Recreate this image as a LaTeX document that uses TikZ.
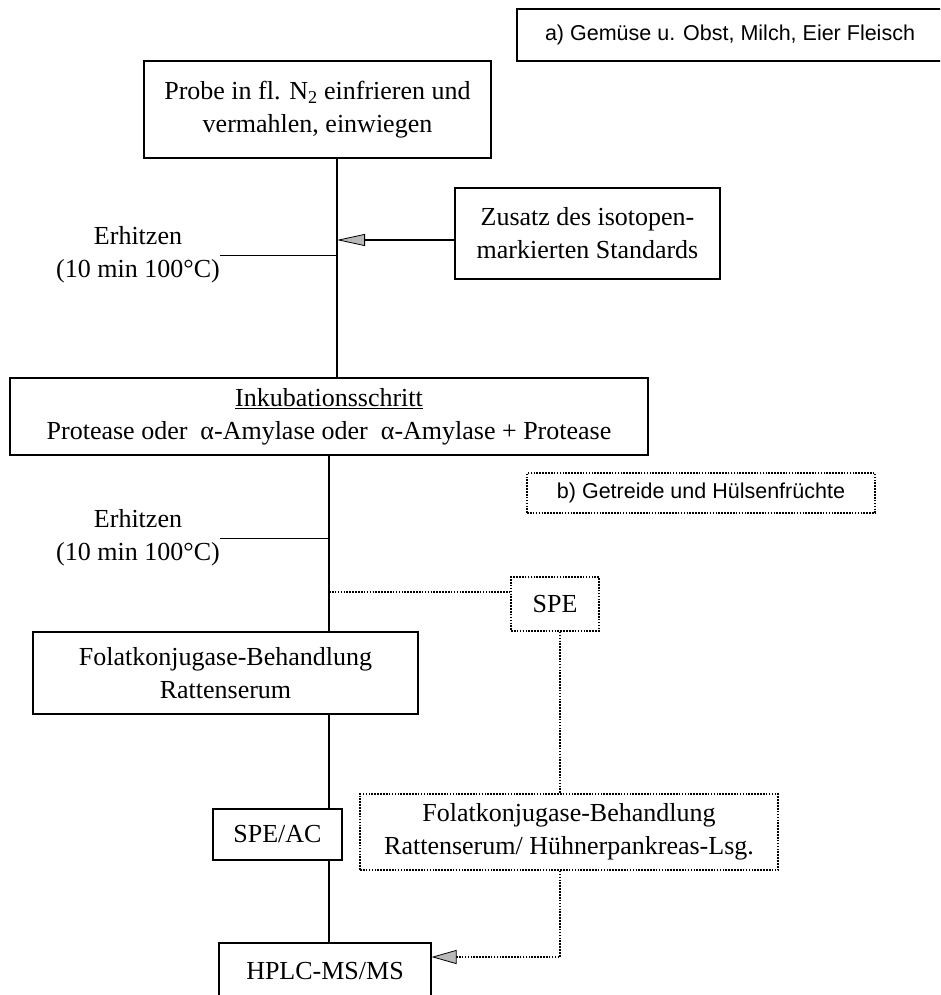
\documentclass[tikz,border=0pt]{standalone}
\usepackage{fontspec}
\setmainfont{Liberation Serif}
\newfontfamily\sansfam{Liberation Sans}
\usetikzlibrary{arrows.meta}
\newcommand\serifsz{\fontsize{26}{33}\selectfont}
\newcommand\sanssz{\sansfam\fontsize{21.5}{26}\selectfont}
\begin{document}
\begin{tikzpicture}[x=1pt,y=-1pt,
  box/.style={draw, line width=1.1pt, inner sep=0pt, align=center, font=\serifsz},
  dbox/.style={box, line width=1.7pt, dash pattern=on 1.6pt off 1.3pt},
  sansbox/.style={font=\sanssz},
  lbl/.style={inner sep=0pt, align=center, font=\serifsz},
  conn/.style={line width=1.8pt},
  thinline/.style={line width=1pt},
  frame/.style={line width=1.1pt},
  dline/.style={line width=1.7pt, dash pattern=on 1.6pt off 1.3pt},
  bigarr/.style={line width=2.4pt, -{Triangle[length=28pt,width=12pt,fill=gray!55,line width=0.8pt]}},
  dotarr/.style={dline, -{Triangle[length=25pt,width=14pt,fill=gray!55,line width=0.8pt]}}
]
\path[use as bounding box, clip] (0,0) rectangle (940,995);

\node[lbl, sansbox] (gem) at (730,35) {a) Gemüse u. Obst, Milch, Eier Fleisch};
\draw[frame] (gem.center) ++(230,-26) -- ++(-443,0) -- ++(0,52) -- ++(443,0);
\node[box, minimum width=347pt, minimum height=97pt] (probe) at (317.5,109.5) {Probe in fl. N\textsubscript{2} einfrieren und\\vermahlen, einwiegen};
\node[box, minimum width=265pt, minimum height=91pt] (zusatz) at (587.5,233.5) {Zusatz des isotopen-\\markierten Standards};
\node[lbl] (erh1) at (138,255) {Erhitzen\\(10 min 100°C)};
\node[box, minimum width=638pt, minimum height=77pt] (inkub) at (329,416.5) {\underline{Inkubationsschritt}\\Protease oder\ \ α-Amylase oder\ \ α-Amylase + Protease};
\node[dbox, sansbox, minimum width=348pt, minimum height=40pt] (getr) at (701,493) {b) Getreide und Hülsenfrüchte};
\node[lbl] (erh2) at (138,538) {Erhitzen\\(10 min 100°C)};
\node[dbox, minimum width=88pt, minimum height=54pt] (spe) at (555,604) {SPE};
\node[box, minimum width=385pt, minimum height=82pt] (fol1) at (225.5,673) {Folatkonjugase-Behandlung\\Rattenserum};
\node[box, minimum width=129pt, minimum height=51pt] (speac) at (277.5,834.5) {SPE/AC};
\node[dbox, minimum width=418pt, minimum height=76pt] (fol2) at (569,832) {Folatkonjugase-Behandlung\\Rattenserum/ Hühnerpankreas-Lsg.};
\node[box, minimum width=212pt, minimum height=57pt] (hplc) at (325,971.5) {HPLC-MS/MS};

\coordinate (v1) at (337,0);
\coordinate (v2) at (329,0);
\coordinate (v3) at (560,0);
\coordinate (a1) at (337,240);
\coordinate (d1) at (329,592);
\coordinate (a2) at (560,957);

\draw[conn] (probe.south -| v1) -- (inkub.north -| v1);
\draw[bigarr] (zusatz.west |- a1) -- (a1);
\draw[thinline] (erh1.east) -- (erh1.east -| v1);
\draw[conn] (inkub.south -| v2) -- (fol1.north -| v2);
\draw[thinline] (erh2.east) -- (erh2.east -| v2);
\draw[dline] (d1) -- (spe.west |- d1);
\draw[dline] (spe.south -| v3) -- (fol2.north -| v3);
\draw[conn] (fol1.south -| v2) -- (speac.north -| v2);
\draw[conn] (speac.south -| v2) -- (hplc.north -| v2);
\draw[dotarr] (fol2.south -| v3) -- (a2) -- (hplc.east |- a2);
\end{tikzpicture}
\end{document}
